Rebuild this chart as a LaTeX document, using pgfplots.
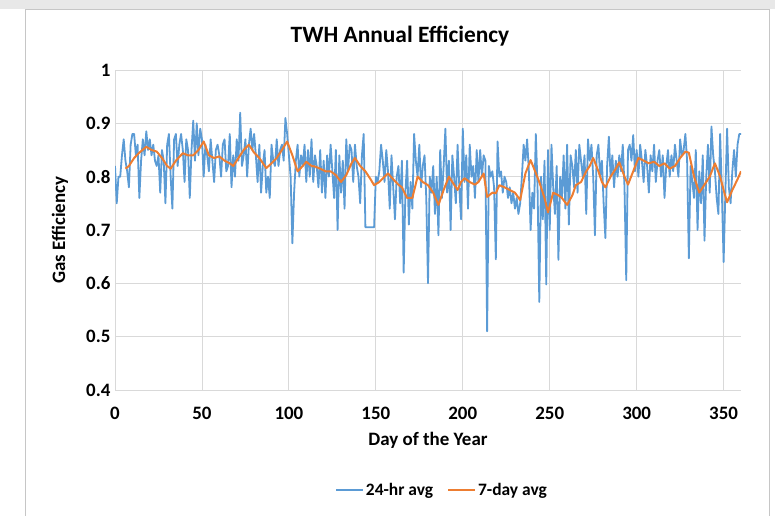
\documentclass[border=0pt]{standalone}
\usepackage{pgfplots}
\pgfplotsset{compat=1.18}
\usepackage{fontspec}
\setmainfont{Carlito}
\definecolor{xblue}{RGB}{91,155,213}
\definecolor{xorange}{RGB}{237,125,49}
\definecolor{xgrid}{RGB}{217,217,217}
\begin{document}
\begin{tikzpicture}[x=1bp,y=1bp]
\useasboundingbox (0,0) rectangle (775,516);
\fill[gray!18] (0,507) rectangle (775,516);
\draw[gray!45, line width=0.8bp] (25,-2) -- (25,507) -- (769,507) -- (769,-2);
\node[font=\fontsize{23.5}{26}\selectfont\bfseries] at (400,480) {TWH Annual Efficiency};
\begin{axis}[
  at={(115bp,126bp)}, anchor=south west,
  width=626bp, height=320bp, scale only axis,
  xmin=0, xmax=360, ymin=0.4, ymax=1,
  xtick={0,50,...,350}, ytick={0.4,0.5,...,1.01},
  grid=major, major grid style={xgrid, line width=0.8bp},
  axis line style={draw=none},
  major tick length=0pt,
  tick label style={font=\fontsize{19}{21}\selectfont\bfseries},
  /pgf/number format/assume math mode=true,
  yticklabel style={/pgf/number format/fixed, /pgf/number format/precision=1, xshift=-1bp},
  xticklabel style={yshift=-14bp},
  xlabel={Day of the Year}, ylabel={Gas Efficiency},
  label style={font=\fontsize{19}{21}\selectfont\bfseries},
  xlabel style={at={(axis description cs:0.5,-0.156)}, anchor=center},
  ylabel style={at={(axis description cs:-0.088,0.5)}, anchor=center},
  legend style={at={(442bp-115bp,-100bp)}, anchor=center, draw=none, fill=none,
    legend columns=2, font=\fontsize{17.5}{19}\selectfont\bfseries,
    /tikz/every even column/.append style={column sep=12bp}},
  legend cell align=left,
  legend image code/.code={\draw[#1] (0bp,0bp) -- (27bp,0bp);},
]
\addplot[xblue, line width=1.8bp, line join=round] coordinates {
(0,0.82)(1,0.75)(2,0.80)(3,0.80)(4,0.84)(5,0.87)(6,0.83)(7,0.81)(8,0.78)(9,0.86)
(10,0.88)(11,0.88)(12,0.84)(13,0.86)(14,0.76)(15,0.83)(16,0.87)(17,0.84)(18,0.885)(19,0.85)
(20,0.87)(21,0.84)(22,0.86)(23,0.83)(24,0.82)(25,0.84)(26,0.77)(27,0.85)(28,0.83)(29,0.75)
(30,0.86)(31,0.88)(32,0.80)(33,0.74)(34,0.87)(35,0.88)(36,0.82)(37,0.86)(38,0.88)(39,0.85)
(40,0.79)(41,0.87)(42,0.85)(43,0.76)(44,0.85)(45,0.905)(46,0.83)(47,0.90)(48,0.84)(49,0.89)
(50,0.87)(51,0.80)(52,0.86)(53,0.84)(54,0.81)(55,0.87)(56,0.83)(57,0.79)(58,0.85)(59,0.86)
(60,0.84)(61,0.80)(62,0.86)(63,0.87)(64,0.81)(65,0.82)(66,0.88)(67,0.78)(68,0.84)(69,0.80)
(70,0.87)(71,0.83)(72,0.92)(73,0.82)(74,0.84)(75,0.87)(76,0.80)(77,0.86)(78,0.89)(79,0.85)
(80,0.88)(81,0.84)(82,0.79)(83,0.86)(84,0.77)(85,0.82)(86,0.85)(87,0.77)(88,0.80)(89,0.76)
(90,0.86)(91,0.83)(92,0.82)(93,0.87)(94,0.82)(95,0.85)(96,0.86)(97,0.83)(98,0.91)(99,0.88)
(100,0.84)(101,0.80)(102,0.675)(103,0.77)(104,0.83)(105,0.86)(106,0.80)(107,0.84)(108,0.82)(109,0.86)
(110,0.79)(111,0.85)(112,0.80)(113,0.87)(114,0.79)(115,0.84)(116,0.82)(117,0.78)(118,0.85)(119,0.77)
(120,0.83)(121,0.76)(122,0.84)(123,0.80)(124,0.86)(125,0.81)(126,0.76)(127,0.85)(128,0.70)(129,0.84)
(130,0.77)(131,0.83)(132,0.74)(133,0.87)(134,0.81)(135,0.86)(136,0.85)(137,0.79)(138,0.86)(139,0.82)
(140,0.80)(141,0.75)(142,0.84)(143,0.88)(144,0.705)(145,0.705)(146,0.705)(147,0.705)(148,0.705)(149,0.705)
(150,0.80)(151,0.79)(152,0.81)(153,0.86)(154,0.83)(155,0.79)(156,0.85)(157,0.81)(158,0.74)(159,0.84)
(160,0.78)(161,0.72)(162,0.80)(163,0.82)(164,0.75)(165,0.83)(166,0.62)(167,0.77)(168,0.83)(169,0.71)
(170,0.79)(171,0.74)(172,0.88)(173,0.83)(174,0.80)(175,0.86)(176,0.78)(177,0.82)(178,0.84)(179,0.76)
(180,0.60)(181,0.80)(182,0.77)(183,0.82)(184,0.73)(185,0.80)(186,0.69)(187,0.85)(188,0.76)(189,0.82)
(190,0.89)(191,0.77)(192,0.83)(193,0.70)(194,0.84)(195,0.80)(196,0.75)(197,0.86)(198,0.78)(199,0.72)
(200,0.89)(201,0.79)(202,0.84)(203,0.74)(204,0.86)(205,0.80)(206,0.82)(207,0.76)(208,0.85)(209,0.79)
(210,0.85)(211,0.80)(212,0.84)(213,0.83)(214,0.51)(215,0.82)(216,0.80)(217,0.81)(218,0.78)(219,0.645)
(220,0.866)(221,0.80)(222,0.81)(223,0.77)(224,0.80)(225,0.79)(226,0.76)(227,0.78)(228,0.75)(229,0.77)
(230,0.74)(231,0.76)(232,0.73)(233,0.75)(234,0.80)(235,0.86)(236,0.83)(237,0.87)(238,0.81)(239,0.70)
(240,0.77)(241,0.74)(242,0.88)(243,0.78)(244,0.565)(245,0.80)(246,0.72)(247,0.83)(248,0.598)(249,0.85)
(250,0.70)(251,0.86)(252,0.78)(253,0.73)(254,0.82)(255,0.644)(256,0.80)(257,0.76)(258,0.84)(259,0.74)
(260,0.86)(261,0.71)(262,0.84)(263,0.82)(264,0.78)(265,0.85)(266,0.77)(267,0.86)(268,0.83)(269,0.80)
(270,0.84)(271,0.73)(272,0.87)(273,0.83)(274,0.86)(275,0.80)(276,0.69)(277,0.84)(278,0.86)(279,0.80)
(280,0.83)(281,0.75)(282,0.685)(283,0.82)(284,0.875)(285,0.80)(286,0.84)(287,0.78)(288,0.83)(289,0.80)
(290,0.84)(291,0.81)(292,0.86)(293,0.78)(294,0.606)(295,0.85)(296,0.86)(297,0.83)(298,0.878)(299,0.81)
(300,0.85)(301,0.80)(302,0.86)(303,0.83)(304,0.79)(305,0.85)(306,0.82)(307,0.77)(308,0.84)(309,0.81)
(310,0.86)(311,0.79)(312,0.83)(313,0.85)(314,0.80)(315,0.84)(316,0.76)(317,0.82)(318,0.85)(319,0.80)
(320,0.84)(321,0.81)(322,0.86)(323,0.83)(324,0.80)(325,0.87)(326,0.84)(327,0.85)(328,0.88)(329,0.83)
(330,0.647)(331,0.82)(332,0.79)(333,0.76)(334,0.85)(335,0.70)(336,0.81)(337,0.75)(338,0.84)(339,0.68)
(340,0.80)(341,0.86)(342,0.77)(343,0.894)(344,0.84)(345,0.81)(346,0.76)(347,0.73)(348,0.88)(349,0.77)
(350,0.64)(351,0.77)(352,0.89)(353,0.78)(354,0.75)(355,0.81)(356,0.85)(357,0.80)(358,0.86)(359,0.88)
(360,0.88)
};
\addlegendentry{24-hr avg}
\addplot[xorange, line width=2bp, line join=round] coordinates {
(6,0.815)(8,0.82)(11,0.835)(14,0.845)(18,0.856)(21,0.85)(24,0.847)(27,0.835)(30,0.82)(32,0.815)
(35,0.83)(39,0.844)(42,0.84)(45,0.84)(48,0.85)(51,0.866)(54,0.84)(57,0.835)(60,0.838)(63,0.83)
(66,0.825)(68,0.82)(71,0.835)(74,0.85)(77,0.86)(80,0.845)(83,0.835)(87,0.816)(90,0.825)(93,0.835)
(96,0.85)(99,0.866)(102,0.84)(105,0.81)(108,0.82)(110,0.828)(113,0.82)(115,0.819)(118,0.815)(121,0.81)
(124,0.81)(127,0.803)(130,0.79)(133,0.803)(136,0.825)(138,0.835)(141,0.82)(144,0.81)(147,0.795)(149,0.784)
(152,0.79)(155,0.80)(157,0.806)(160,0.795)(163,0.785)(165,0.78)(168,0.76)(171,0.76)(174,0.80)(177,0.79)
(180,0.784)(183,0.77)(186,0.747)(189,0.775)(192,0.80)(195,0.785)(197,0.775)(199,0.79)(201,0.797)(204,0.79)
(207,0.785)(209,0.79)(212,0.806)(214,0.762)(217,0.77)(219,0.769)(221,0.784)(224,0.78)(227,0.775)(230,0.77)
(233,0.756)(236,0.806)(239,0.831)(241,0.815)(244,0.79)(247,0.76)(249,0.733)(252,0.77)(255,0.765)(257,0.76)
(260,0.747)(263,0.765)(265,0.784)(268,0.79)(271,0.81)(273,0.82)(275,0.835)(278,0.81)(280,0.79)(282,0.78)
(285,0.80)(288,0.815)(290,0.827)(293,0.80)(295,0.785)(298,0.81)(301,0.835)(304,0.83)(307,0.825)(310,0.828)
(313,0.82)(316,0.825)(319,0.815)(322,0.82)(325,0.835)(328,0.847)(330,0.845)(333,0.80)(336,0.77)(339,0.785)
(342,0.80)(345,0.825)(348,0.80)(350,0.775)(352,0.752)(355,0.775)(358,0.795)(360,0.81)
};
\addlegendentry{7-day avg}
\end{axis}
\end{tikzpicture}
\end{document}
